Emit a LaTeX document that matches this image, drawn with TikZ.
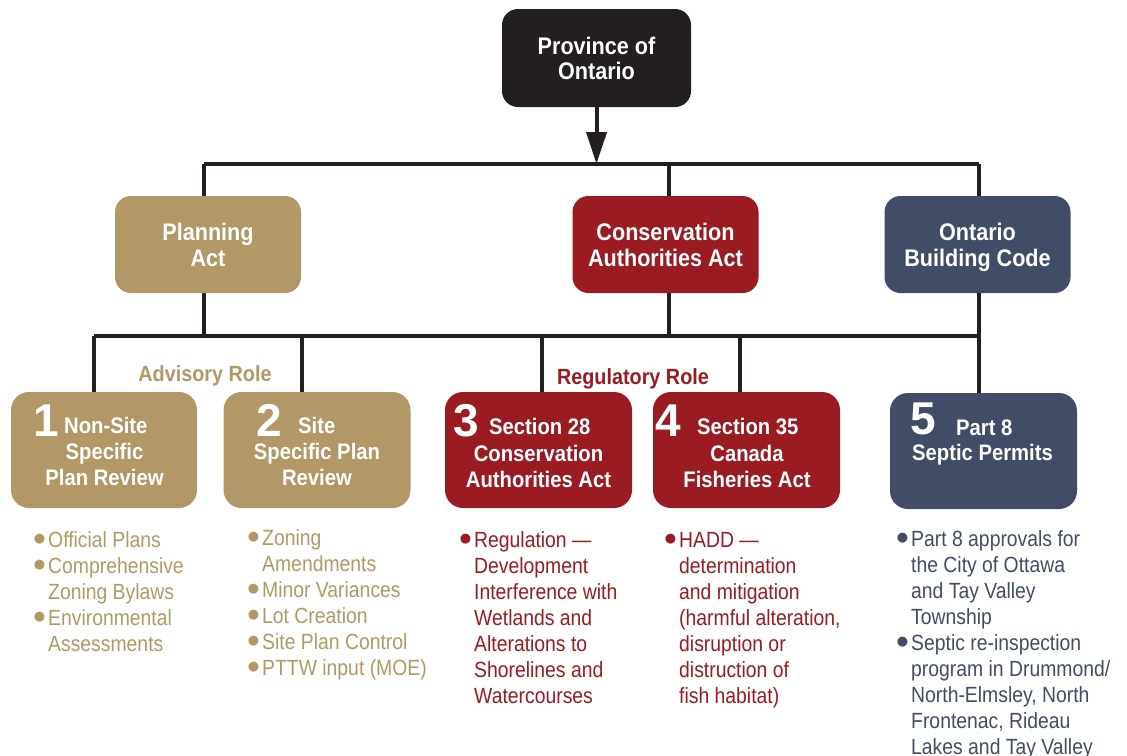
\documentclass[tikz,border=0pt]{standalone}
\usepackage{fontspec}
\setmainfont{Liberation Sans}
\newfontfamily\condb[FakeStretch=0.9]{Liberation Sans}
\newfontfamily\condr[FakeStretch=0.88]{Liberation Sans}
\newfontfamily\bulfont{Liberation Sans}
\newfontfamily\djv{DejaVu Sans}
\usetikzlibrary{arrows.meta}
\definecolor{cgold}{HTML}{B29866}
\definecolor{cred}{HTML}{9A1B21}
\definecolor{cnavy}{HTML}{414D66}
\definecolor{cblack}{HTML}{231F20}
\newcommand\mybul{\llap{\smash{\raisebox{4.5pt}{\djv\fontsize{13}{14}\selectfont ●}}\hspace{3pt}}}
\tikzset{
  hbox/.style={rounded corners=16pt, minimum width=186pt, minimum height=97pt, inner sep=0pt,
    text=white, align=center, font=\condb\bfseries\fontsize{24}{26}\selectfont},
  nbox/.style={rounded corners=18pt, minimum width=186pt, minimum height=116pt, inner sep=0pt},
  num/.style={anchor=base west, inner sep=0pt, text depth=0pt, text=white, font=\bulfont\bfseries\fontsize{46}{46}\selectfont},
  btxt/.style={inner sep=0pt, text=white, font=\condb\bfseries\fontsize{22.5}{26.5}\selectfont},
  role/.style={inner sep=0pt, anchor=base, font=\condb\bfseries\fontsize{22}{26}\selectfont},
  blist/.style={anchor=north west, inner sep=0pt, align=left, font=\condr\fontsize{22}{26}\selectfont},
  conn/.style={line width=3.5pt, draw=cblack},
  arr/.style={line width=4pt, draw=cblack, -{Triangle[width=20pt,length=32pt]}}
}
\begin{document}
\begin{tikzpicture}[x=1pt, y=-1pt]
\useasboundingbox (0,0) rectangle (1127,755);
% junction coordinates
\coordinate (t1) at (204,164);
\coordinate (t2) at (669,164);
\coordinate (t3) at (979,164);
\coordinate (h2l) at (94,336);
\coordinate (h2r) at (979,336);
\coordinate (d2) at (302,336);
\coordinate (d3) at (542,336);
\coordinate (d4) at (740,336);
% connectors (behind boxes)
\draw[conn] (t1) -- (t3);
\draw[conn] (t1) -- (t1 |- h2l);
\draw[conn] (t2) -- (t2 |- h2l);
\draw[conn] (t3) -- (t3 |- h2l);
\draw[line width=4.5pt, draw=cblack] (h2l) -- (h2r);
% top box
\node[hbox, fill=cblack, minimum width=189pt, minimum height=98pt, font=\condb\bfseries\fontsize{24}{25}\selectfont] (prov) at (596.5,58) {Province of\\Ontario};
\draw[arr] (prov.south) -- (prov.south |- t1);
% second level
\node[hbox, fill=cgold] (pa) at (208,244.5) {Planning\\Act};
\node[hbox, fill=cred] (caa) at (665.5,244.5) {Conservation\\Authorities Act};
\node[hbox, fill=cnavy] (obc) at (977.5,244.5) {Ontario\\\smash{Building Code}};
% third level boxes
\node[nbox, fill=cgold] (b1) at (104,450) {};
\node[nbox, fill=cgold, minimum width=187pt] (b2) at (317,450) {};
\node[nbox, fill=cred, minimum width=187pt] (b3) at (538.5,450) {};
\node[nbox, fill=cred, minimum width=187pt] (b4) at (746.5,450) {};
\node[nbox, fill=cnavy, minimum width=187pt] (b5) at (983.5,451) {};
\draw[conn] (h2l) -- (h2l |- b1.north);
\draw[conn] (d2) -- (d2 |- b2.north);
\draw[conn] (d3) -- (d3 |- b3.north);
\draw[conn] (d4) -- (d4 |- b4.north);
\draw[conn] (obc.south -| t3) -- (t3 |- b5.north);
% roles
\node[role, text=cgold] (adv) at (205,381) {Advisory Role};
\node[role, text=cred] (reg) at (633,384) {Regulatory Role};
% box texts
\node[num] (n1) at (33,436) {1};
\node[btxt, anchor=base west] (l1a) at (64,433) {Non-Site};
\node[btxt, anchor=north, align=center] (l1b) at (104.5,440.5) {\strut Specific\\Plan Review};
\node[num] (n2) at (256,436) {2};
\node[btxt, anchor=base west] (l2a) at (298,433) {Site};
\node[btxt, anchor=north, align=center] (l2b) at (317,440.5) {\strut Specific Plan\\Review};
\node[num] (n3) at (453,436) {3};
\node[btxt, anchor=base west] (l3a) at (489,434) {Section 28};
\node[btxt, anchor=north, align=center] (l3b) at (538.5,442.5) {\strut Conservation\\Authorities Act};
\node[num] (n4) at (655,436) {4};
\node[btxt, anchor=base west] (l4a) at (697,434) {Section 35};
\node[btxt, anchor=north, align=center] (l4b) at (747,442.5) {\strut Canada\\Fisheries Act};
\node[num] (n5) at (910,434) {5};
\node[btxt, anchor=base west] (l5a) at (956,435) {Part 8};
\node[btxt, anchor=base west] (l5b) at (912,460) {Septic Permits};
% bullet lists
\node[blist, text=cgold] (c1) at (48,528.8) {\mybul\strut Official Plans\\\mybul Comprehensive\\Zoning Bylaws\\\mybul Environmental\\Assessments};
\node[blist, text=cgold] (c2) at (262,526.8) {\mybul\strut Zoning\\Amendments\\\mybul Minor Variances\\\mybul Lot Creation\\\mybul Site Plan Control\\\mybul PTTW input (MOE)};
\node[blist, text=cred] (c3) at (474,528.8) {\mybul\strut Regulation —\\Development\\Interference with\\Wetlands and\\Alterations to\\Shorelines and\\Watercourses};
\node[blist, text=cred] (c4) at (679,528.8) {\mybul\strut HADD —\\determination\\and mitigation\\(harmful alteration,\\disruption or\\distruction of\\fish habitat)};
\node[blist, text=cnavy] (c5) at (911,527.8) {\mybul\strut Part 8 approvals for\\the City of Ottawa\\and Tay Valley\\Township\\\mybul Septic re-inspection\\program in Drummond/\\North-Elmsley, North\\Frontenac, Rideau\\Lakes and Tay Valley};
\end{tikzpicture}
\end{document}
